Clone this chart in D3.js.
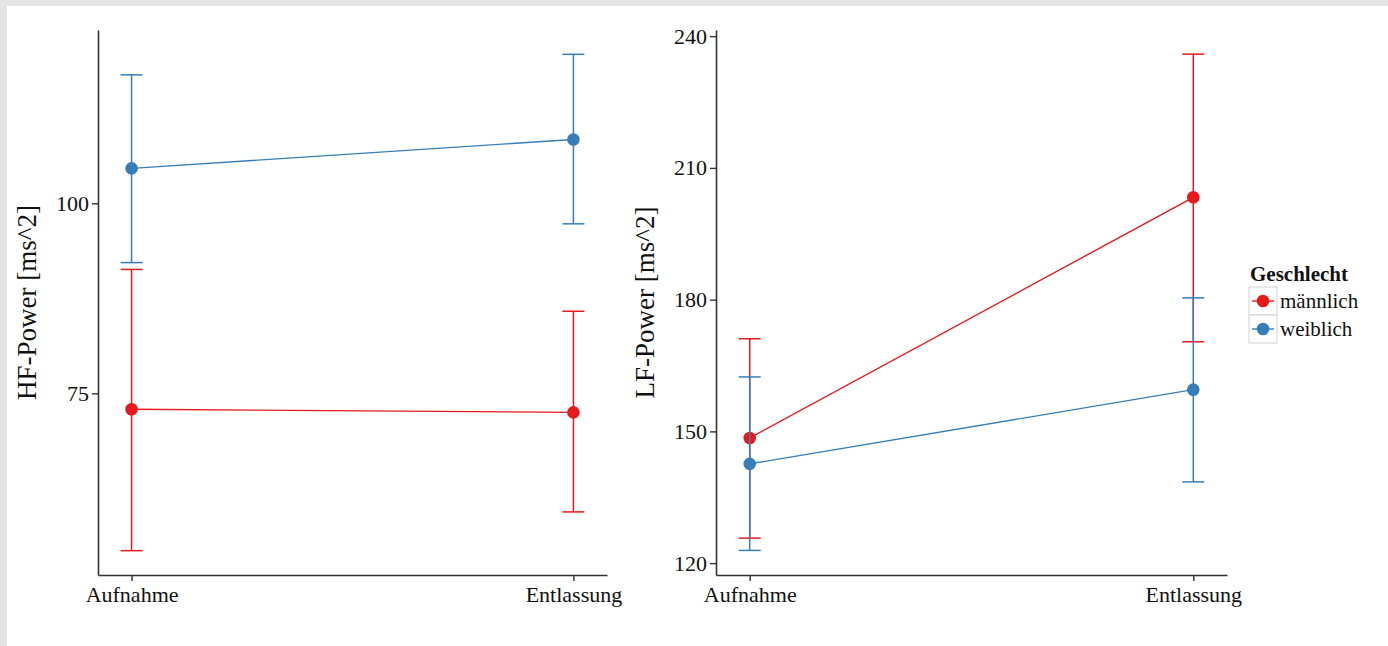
<!DOCTYPE html>
<html>
<head>
<meta charset="utf-8">
<script src="https://cdn.jsdelivr.net/npm/d3@7"></script>
<style>
body { margin: 0; background: #e4e4e4; }
text { font-family: "Liberation Serif", "Times New Roman", serif; fill: #111; }
</style>
</head>
<body>
<svg id="chart"></svg>
<script>
var categories = ["Aufnahme", "Entlassung"]
var groups = ["männlich", "weiblich"]
var groupColors = ["#e41a1c", "#377eb8"]

// HF-Power (left panel)
var hfMean_m = [72.9, 72.5]
var hfLow_m = [54.3, 59.4]
var hfHigh_m = [91.3, 85.8]
var hfMean_w = [104.6, 108.4]
var hfLow_w = [92.2, 97.3]
var hfHigh_w = [116.9, 119.6]
var hfTicks = [75, 100]

// LF-Power (right panel)
var lfMean_m = [148.5, 203.3]
var lfLow_m = [125.7, 170.4]
var lfHigh_m = [171.1, 235.9]
var lfMean_w = [142.6, 159.5]
var lfLow_w = [122.9, 138.5]
var lfHigh_w = [162.4, 180.4]
var lfTicks = [120, 150, 180, 210, 240]

var svgw = 1388
var svgh = 646

var svg = d3.select("#chart")
    .attr("width", svgw)
    .attr("height", svgh)

svg.append("rect")
    .attr("x", 7).attr("y", 6)
    .attr("width", svgw - 7).attr("height", svgh - 6)
    .attr("fill", "white")

var makeSeries = function(mean, low, high)
{
    return categories.map(function(c, i) {
        return {cat: c, mean: mean[i], low: low[i], high: high[i]}
    })
}

var drawPanel = function(p)
{
    var xscale = d3.scalePoint()
        .domain(categories)
        .range([p.left, p.right])
        .padding(0.076)

    var yscale = d3.scaleLinear()
        .domain(p.ydomain)
        .range([p.bottom, p.top])

    var g = svg.append("g")

    // axes
    var yAxis = d3.axisLeft(yscale).tickValues(p.ticks).tickSize(6).tickSizeOuter(0).tickPadding(3)
    var ya = g.append("g")
        .attr("transform", "translate(" + p.left + ",0)")
        .call(yAxis)
    var xAxis = d3.axisBottom(xscale).tickSize(6).tickSizeOuter(0).tickPadding(5)
    var xa = g.append("g")
        .attr("transform", "translate(0," + p.bottom + ")")
        .call(xAxis)

    ;[ya, xa].forEach(function(a) {
        a.select(".domain").attr("stroke", "#333").attr("stroke-width", 1.6)
        a.selectAll(".tick line").attr("stroke", "#333").attr("stroke-width", 1.4)
        a.selectAll(".tick text")
            .attr("fill", "#111")
            .style("font-family", "Liberation Serif")
            .style("font-size", "22px")
    })

    // y title
    g.append("text")
        .text(p.title)
        .attr("text-anchor", "middle")
        .attr("transform", "translate(" + p.titleX + "," + ((p.top + p.bottom) / 2) + ") rotate(-90)")
        .style("font-size", "27px")

    // series
    p.series.forEach(function(s, k) {
        var col = groupColors[k]
        var sg = g.append("g")

        sg.append("path")
            .datum(s)
            .attr("fill", "none")
            .attr("stroke", col)
            .attr("stroke-width", 1.4)
            .attr("d", d3.line()
                .x(function(d) { return xscale(d.cat) })
                .y(function(d) { return yscale(d.mean) }))

        var eb = sg.selectAll(".eb")
            .data(s)
            .enter()
            .append("g")

        eb.append("line")
            .attr("x1", function(d) { return xscale(d.cat) })
            .attr("x2", function(d) { return xscale(d.cat) })
            .attr("y1", function(d) { return yscale(d.low) })
            .attr("y2", function(d) { return yscale(d.high) })
            .attr("stroke", col).attr("stroke-width", 1.5)
        eb.append("line")
            .attr("x1", function(d) { return xscale(d.cat) - 11 })
            .attr("x2", function(d) { return xscale(d.cat) + 11 })
            .attr("y1", function(d) { return yscale(d.low) })
            .attr("y2", function(d) { return yscale(d.low) })
            .attr("stroke", col).attr("stroke-width", 1.5)
        eb.append("line")
            .attr("x1", function(d) { return xscale(d.cat) - 11 })
            .attr("x2", function(d) { return xscale(d.cat) + 11 })
            .attr("y1", function(d) { return yscale(d.high) })
            .attr("y2", function(d) { return yscale(d.high) })
            .attr("stroke", col).attr("stroke-width", 1.5)
        eb.append("circle")
            .attr("cx", function(d) { return xscale(d.cat) })
            .attr("cy", function(d) { return yscale(d.mean) })
            .attr("r", 6.3)
            .attr("fill", col)
    })
}

drawPanel({
    left: 98, right: 607, top: 30, bottom: 575,
    ydomain: [51.1, 122.8], ticks: hfTicks,
    title: "HF-Power [ms^2]", titleX: 36,
    series: [makeSeries(hfMean_m, hfLow_m, hfHigh_m), makeSeries(hfMean_w, hfLow_w, hfHigh_w)]
})

drawPanel({
    left: 716, right: 1227, top: 30, bottom: 575,
    ydomain: [117.3, 241.4], ticks: lfTicks,
    title: "LF-Power [ms^2]", titleX: 654,
    series: [makeSeries(lfMean_m, lfLow_m, lfHigh_m), makeSeries(lfMean_w, lfLow_w, lfHigh_w)]
})

// legend
var legend = svg.append("g")
    .attr("transform", "translate(1249,287)")

legend.append("text")
    .text("Geschlecht")
    .attr("x", 1)
    .attr("y", -6)
    .style("font-weight", "bold")
    .style("font-size", "21px")

var entries = legend.selectAll(".entry")
    .data(groups)
    .enter()
    .append("g")
    .attr("transform", function(d, i) { return "translate(0," + i * 28 + ")" })

entries.append("rect")
    .attr("width", 28).attr("height", 28)
    .attr("fill", "white")
    .attr("stroke", "#d9d9d9").attr("stroke-width", 1.2)
entries.append("line")
    .attr("x1", 3).attr("x2", 25).attr("y1", 14).attr("y2", 14)
    .attr("stroke", function(d, i) { return groupColors[i] })
    .attr("stroke-width", 1.4)
entries.append("circle")
    .attr("cx", 14).attr("cy", 14).attr("r", 6.3)
    .attr("fill", function(d, i) { return groupColors[i] })
entries.append("text")
    .text(function(d) { return d })
    .attr("x", 31)
    .attr("y", 21)
    .style("font-size", "21px")
</script>
</body>
</html>
